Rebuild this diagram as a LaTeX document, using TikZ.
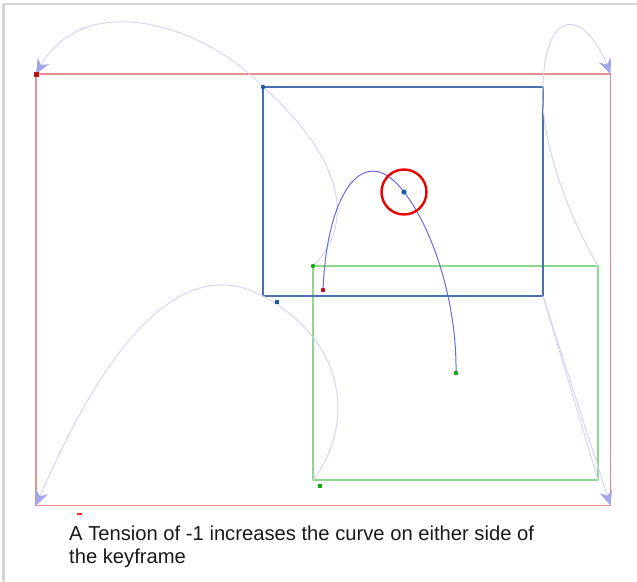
\documentclass[tikz,border=0pt]{standalone}
\usepackage{fontspec}
\setmainfont{Liberation Sans}
\usetikzlibrary{arrows.meta}
\definecolor{frameline}{RGB}{212,212,212}
\definecolor{redbox}{RGB}{234,140,140}
\definecolor{bluebox}{RGB}{72,112,172}
\definecolor{greenbox}{RGB}{140,216,140}
\definecolor{ghost}{RGB}{210,210,246}
\definecolor{ghosttip}{RGB}{165,165,238}
\definecolor{pathblue}{RGB}{105,105,222}
\definecolor{keyred}{RGB}{178,20,20}
\definecolor{keyblue}{RGB}{30,90,170}
\definecolor{keygreen}{RGB}{20,170,20}

\begin{document}
\begin{tikzpicture}[x=1pt,y=-1pt,line cap=round,line join=round,
  ghostpath/.style={ghost,line width=0.9pt,-{Stealth[length=15pt,width=13pt,inset=5pt,fill=ghosttip,color=ghosttip]}},
  ghostleg/.style={ghost,line width=0.9pt}]
\useasboundingbox (0,0) rectangle (637,581);
% page edge
\draw[frameline,line width=2.5pt] (3.5,581) -- (3.5,4) -- (637,4);
% key frame boxes
\coordinate (rTL) at (36,74);   \coordinate (rBR) at (610.5,505.5);
\coordinate (rTR) at (610.5,74); \coordinate (rBL) at (36,505.5);
\coordinate (bTL) at (263,87);  \coordinate (bBR) at (543,296);
\coordinate (bTR) at (543,87);  \coordinate (bBL) at (263,296);
\coordinate (gTL) at (313,266); \coordinate (gBR) at (598,480);
\coordinate (gTR) at (598,266); \coordinate (gBL) at (313,480);
\draw[redbox,line width=1.5pt] (rTL) rectangle (rBR);
\draw[greenbox,line width=1.3pt] (gTL) rectangle (gBR);
\draw[bluebox,line width=2.2pt] (bTL) rectangle (bBR);
% corner motion paths
\draw[ghostleg] (gTL) .. controls (355,225) and (345,160) .. (bTL);
\draw[ghostpath] (bTL) .. controls (205,25) and (85,-12) .. (rTL);
\draw[ghostleg] (gTR) .. controls (560,200) and (540,130) .. (bTR);
\draw[ghostpath] (bTR) .. controls (545,5) and (585,10) .. (rTR);
\draw[ghostleg] (gBL) .. controls (352,430) and (352,345) .. (bBL);
\draw[ghostpath] (bBL) .. controls (200,262) and (125,300) .. (rBL);
\draw[ghostleg] (gBR) -- (bBR);
\draw[ghostpath] (bBR) -- (rBR);
% keyframe curve
\coordinate (k1) at (323,290);
\coordinate (k2) at (404,192);
\coordinate (k3) at (456,373);
\draw[pathblue,line width=1pt] (k1) .. controls (327,190) and (365,140) .. (k2)
  .. controls (432,228) and (457,300) .. (k3);
\draw[red!92!black,line width=2.4pt] (k2) circle (22.5);
% dots
\fill[keyred] (33.5,71.5) rectangle (38.5,76.5);
\fill[keyblue] (bTL) circle (2.2);
\fill[keyblue] (275,300) rectangle (279,304);
\fill[keygreen] (gTL) circle (2.2);
\fill[keygreen] (318,484) rectangle (322,488);
\fill[keyred] (k1) circle (2.3);
\fill[keyblue] (k2) circle (2.6);
\fill[keygreen] (k3) circle (2.3);
\fill[red!85] (76.5,513.3) rectangle (81.5,514.8);
% caption
\node[anchor=north west,inner sep=0pt,align=left,text=black!90,
  font=\fontsize{20.2}{23}\selectfont] (caption) at (69,526)
  {A Tension of -1 increases the curve on either side of\\the keyframe};
\end{tikzpicture}
\end{document}
